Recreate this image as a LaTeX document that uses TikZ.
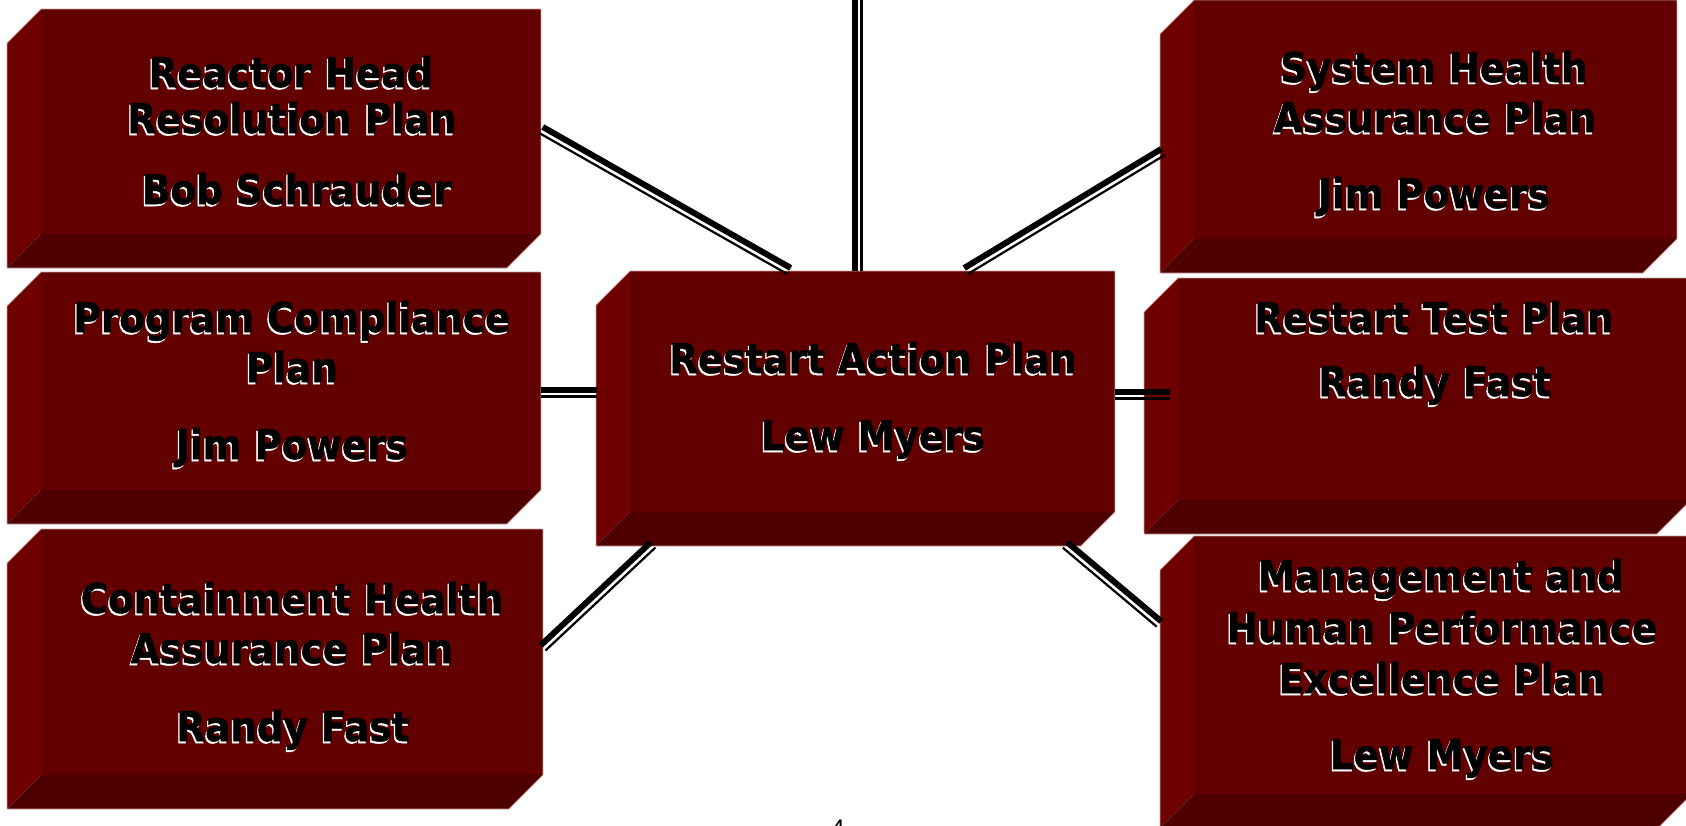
\documentclass[tikz,border=0pt]{standalone}
\usepackage{fontspec}
\usetikzlibrary{calc}
\newfontfamily\platefont{DejaVu Sans}[FakeStretch=0.91, FakeBold=1.2]
\newfontfamily\pagefont{Liberation Sans}

\definecolor{facered}{RGB}{98,0,0}
\definecolor{sidered}{RGB}{110,0,0}
\definecolor{floorred}{RGB}{78,0,0}
\definecolor{rim}{RGB}{205,160,160}

\tikzset{
  front/.style={rectangle, fill=facered, inner sep=0pt, outer sep=0pt},
  sideface/.style={fill=sidered},
  baseface/.style={fill=floorred},
  rimline/.style={draw=rim, line width=0.8pt, line join=miter},
  plate text/.style={font=\platefont\bfseries\fontsize{41}{49}\selectfont,
                     text=black, inner sep=0pt, anchor=base},
  plate glow/.style={plate text, text=white},
  thickbar/.style={draw=black, line width=6pt},
  thinbar/.style={draw=black, line width=2.2pt},
}

% bevelled plate: name, left, top, right, bottom of the front face
\newcommand\plate[5]{%
  \node[front, minimum width={#4-#2}, minimum height={#5-#3}]
    (#1) at ({(#2+#4)/2},{(#3+#5)/2}) {};
  \fill[sideface] (#1.north west) -- ++(-34,34)
    -- ($(#1.south west)+(-34,34)$) -- (#1.south west) -- cycle;
  \fill[baseface] (#1.south west) -- ++(-34,34)
    -- ($(#1.south east)+(-34,34)$) -- (#1.south east) -- cycle;
  \draw[rimline] (#1.north west) -- (#1.north east) -- (#1.south east)
    -- ++(-34,34) -- ++({-(#4-#2)},0) -- ++(0,{-(#5-#3)}) -- cycle;
}

% embossed caption line: name, centre x, baseline y, text
\newcommand\platetext[4]{%
  \node[plate glow] (#1-glow) at ({#2-1.3},{#3+2}) {#4};
  \node[plate text] (#1) at (#2,#3) {#4};
}

% thick-thin compound connector, thick stroke on the left of travel
\newcommand\twin[2]{%
  \draw[thickbar] ($(#1)!3.5pt!90:(#2)$) -- ($(#2)!3.5pt!-90:(#1)$);
  \draw[thinbar] ($(#1)!-3.5pt!90:(#2)$) -- ($(#2)!-3.5pt!-90:(#1)$);
}

\begin{document}
\begin{tikzpicture}[x=1pt, y=-1pt]
  \useasboundingbox (0,0) rectangle (1686,825);
  \clip (0,0) rectangle (1686,825);
  \fill[white] (0,0) rectangle (1686,825);

  % plates
  \plate{head}{41}{9}{541}{234}
  \plate{comply}{41}{272}{541}{490}
  \plate{contain}{41}{529}{543}{775}
  \plate{hub}{630}{271}{1115}{512}
  \plate{syshealth}{1194}{0}{1677}{239}
  \plate{testplan}{1178}{278}{1691}{500}
  \plate{mgmt}{1194}{536}{1692}{794}

  % connector end points
  \coordinate (sky)     at (858,0);
  \coordinate (hub-n)   at (858,271);
  \coordinate (hub-nw)  at (789,271);
  \coordinate (hub-ne)  at (966,271);
  \coordinate (hub-w)   at (597,393);
  \coordinate (hub-e)   at (1115,395);
  \coordinate (hub-sw)  at (653,545);
  \coordinate (hub-se)  at (1065,545);
  \coordinate (head-e)  at (541,130);
  \coordinate (comply-e) at (541,393);
  \coordinate (contain-e) at (543,648);
  \coordinate (sys-w)   at (1163,152);
  \coordinate (test-w)  at (1170,395);
  \coordinate (mgmt-w)  at (1159,624);

  % connectors
  \twin{hub-n}{sky}
  \twin{head-e}{hub-nw}
  \twin{hub-ne}{sys-w}
  \twin{comply-e}{hub-w}
  \twin{hub-e}{test-w}
  \twin{contain-e}{hub-sw}
  \twin{hub-se}{mgmt-w}

  % captions
  \platetext{t-head1}{291}{87}{Reactor Head}
  \platetext{t-head2}{292}{133}{Resolution Plan}
  \platetext{t-head3}{297}{204}{Bob Schrauder}

  \platetext{t-comply1}{292}{332}{Program Compliance}
  \platetext{t-comply2}{292}{382}{Plan}
  \platetext{t-comply3}{292}{459}{Jim Powers}

  \platetext{t-contain1}{292}{613}{Containment Health}
  \platetext{t-contain2}{292}{663}{Assurance Plan}
  \platetext{t-contain3}{293}{741}{Randy Fast}

  \platetext{t-hub1}{873}{373}{Restart Action Plan}
  \platetext{t-hub2}{873}{450}{Lew Myers}

  \platetext{t-sys1}{1434}{82}{System Health}
  \platetext{t-sys2}{1435}{132}{Assurance Plan}
  \platetext{t-sys3}{1434}{208}{Jim Powers}

  \platetext{t-test1}{1434}{332}{Restart Test Plan}
  \platetext{t-test2}{1435}{396}{Randy Fast}

  \platetext{t-mgmt1}{1441}{590}{Management and}
  \platetext{t-mgmt2}{1442}{642}{Human Performance}
  \platetext{t-mgmt3}{1442}{693}{Excellence Plan}
  \platetext{t-mgmt4}{1442}{769}{Lew Myers}

  % page number
  \node[font=\pagefont\fontsize{24}{28}\selectfont, anchor=base, inner sep=0pt]
    (pagenum) at (838,836) {4};
\end{tikzpicture}
\end{document}
